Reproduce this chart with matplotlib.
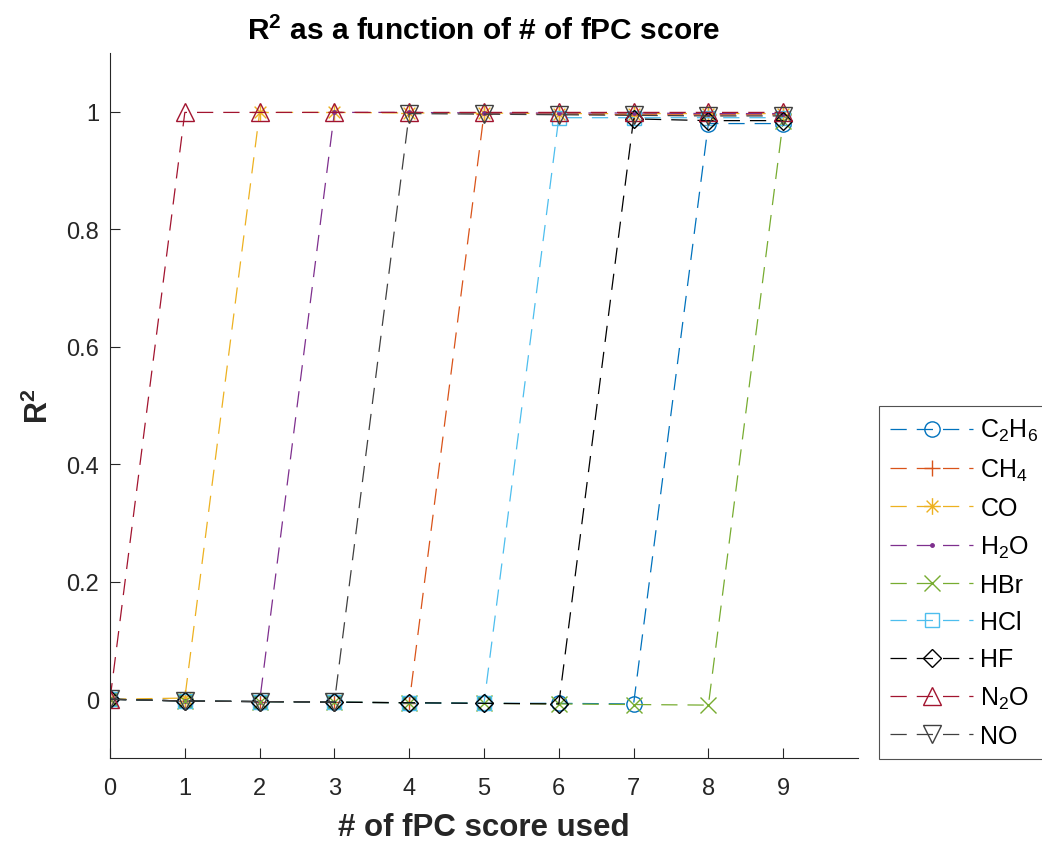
import matplotlib
matplotlib.use("Agg")
import matplotlib.pyplot as plt
from matplotlib.path import Path

plt.rcParams['font.family'] = ['Liberation Sans', 'DejaVu Sans']
plt.rcParams['mathtext.fontset'] = 'custom'
plt.rcParams['mathtext.rm'] = 'Liberation Sans'
plt.rcParams['mathtext.it'] = 'Liberation Sans'
plt.rcParams['mathtext.bf'] = 'Liberation Sans:bold'
plt.rcParams['mathtext.default'] = 'regular'

x = [0, 1, 2, 3, 4, 5, 6, 7, 8, 9]
names = ['C$_2$H$_6$', 'CH$_4$', 'CO', 'H$_2$O', 'HBr', 'HCl', 'HF', 'N$_2$O', 'NO']
C2H6 = [0, -0.003, -0.004, -0.005, -0.006, -0.007, -0.007, -0.008, 0.980, 0.980]
CH4 = [0, -0.003, -0.004, -0.005, -0.006, 0.997, 0.996, 0.995, 0.995, 0.995]
CO = [0, 0.002, 0.999, 0.999, 0.998, 0.998, 0.997, 0.997, 0.997, 0.997]
H2O = [0, -0.003, -0.004, 0.999, 0.999, 0.998, 0.998, 0.998, 0.997, 0.997]
HBr = [0, -0.003, -0.004, -0.005, -0.006, -0.007, -0.008, -0.009, -0.010, 0.985]
HCl = [0, -0.003, -0.004, -0.005, -0.006, -0.007, 0.990, 0.990, 0.990, 0.990]
HF = [0, -0.003, -0.004, -0.005, -0.006, -0.007, -0.008, 0.988, 0.985, 0.985]
N2O = [0, 0.999, 0.999, 0.999, 0.999, 0.999, 0.999, 0.999, 0.999, 0.999]
NO = [0, -0.003, -0.004, -0.005, 0.997, 0.996, 0.995, 0.994, 0.993, 0.993]
series = [C2H6, CH4, CO, H2O, HBr, HCl, HF, N2O, NO]

colors = [(0, 0.447, 0.741), (0.85, 0.325, 0.098), (0.929, 0.694, 0.125),
          (0.494, 0.184, 0.556), (0.466, 0.674, 0.188), (0.301, 0.745, 0.933),
          (0, 0, 0), (0.635, 0.078, 0.184), (0.25, 0.25, 0.25)]

d = 0.7071
asterisk = Path([(-1, 0), (1, 0), (0, -1), (0, 1), (-d, -d), (d, d), (-d, d), (d, -d)],
                [Path.MOVETO, Path.LINETO] * 4)
markers = ['o', '+', asterisk, '.', 'x', 's', 'D', '^', 'v']
msizes = [11, 12, 12, 5, 11, 10, 9, 13, 13]

fig = plt.figure(figsize=(10.42, 8.45), dpi=100)
ax = fig.add_axes([0.1056, 0.1018, 0.7178, 0.8342])

for y, n, c, m, ms in zip(series, names, colors, markers, msizes):
    ax.plot(x, y, linestyle=(0, (13, 8)), color=c, lw=0.9, marker=m, ms=ms,
            markerfacecolor=c if isinstance(m, str) and m == '.' else 'none',
            markeredgecolor=c, markeredgewidth=1.0, label=n)

ax.set_xlim(0, 10)
ax.set_ylim(-0.1, 1.1)
ax.set_xticks(range(10))
ax.set_yticks([0, 0.2, 0.4, 0.6, 0.8, 1])
ax.set_yticklabels(['0', '0.2', '0.4', '0.6', '0.8', '1'])
axc = (0.15, 0.15, 0.15)
for s in ['top', 'right']:
    ax.spines[s].set_visible(False)
for s in ['left', 'bottom']:
    ax.spines[s].set_color(axc)
    ax.spines[s].set_linewidth(0.8)
ax.tick_params(direction='in', length=7, width=0.8, colors=axc, labelsize=17)
ax.tick_params(axis='y', pad=8)
ax.tick_params(axis='x', pad=14)

ax.set_title('R$^\\mathbf{2}$ as a function of # of fPC score', fontsize=21.5,
             fontweight='bold', pad=10, color=(0, 0, 0))
ax.set_xlabel('# of fPC score used', fontsize=22.5, fontweight='bold', labelpad=9, color=axc)
ax.set_ylabel('R$^\\mathbf{2}$', fontsize=22, fontweight='bold', labelpad=8, color=axc)

leg = ax.legend(loc='upper left', bbox_to_anchor=(879 / 1042, 1 - 407 / 845),
                bbox_transform=fig.transFigure, fontsize=18, handlelength=3.3,
                handletextpad=0.3, labelspacing=0.53, numpoints=1,
                fancybox=False, borderpad=0.45, borderaxespad=0)
leg.get_frame().set_edgecolor(axc)
leg.get_frame().set_linewidth(0.8)

fig.savefig('out.png', dpi=100)
